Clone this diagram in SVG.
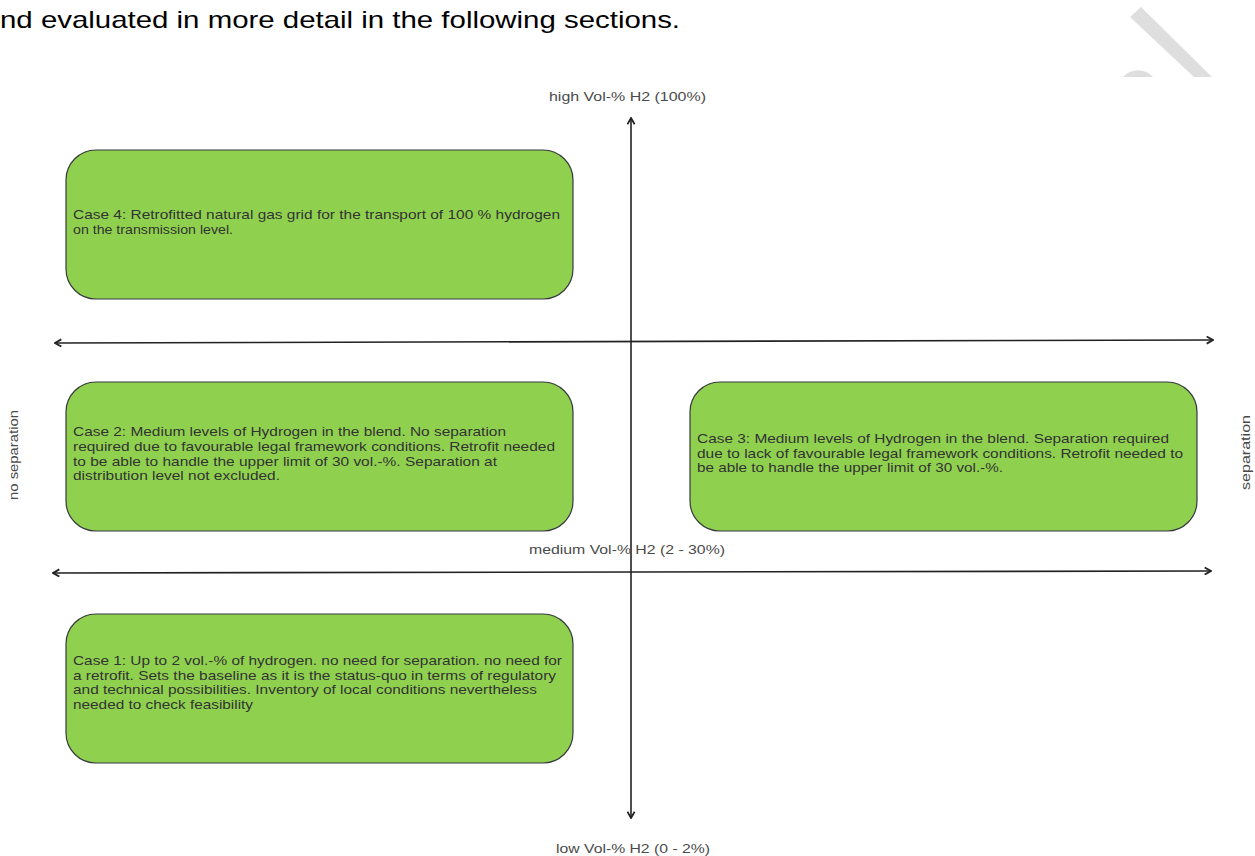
<svg xmlns="http://www.w3.org/2000/svg" width="1255" height="856" viewBox="0 0 1255 856">
<style>
.box{fill:#8fd14f;stroke:#36393d;stroke-width:1.2}
.bt{font-family:"Liberation Sans",Arial,sans-serif;font-size:13.5px;fill:#333333}
.lbl{font-family:"Liberation Sans",Arial,sans-serif;font-size:13.5px;fill:#4a4a4a}
.ax{stroke:#222222;stroke-width:1.6;fill:none}
.wm{fill:#dedede}
</style>
<defs>
<marker id="arr" viewBox="0 0 10 10" refX="9" refY="5" markerWidth="9" markerHeight="9" markerUnits="userSpaceOnUse" orient="auto-start-reverse">
<path d="M2,1 L9,5 L2,9" fill="none" stroke="#222222" stroke-width="2"/>
</marker>
</defs>
<rect width="1255" height="856" fill="#ffffff"/>
<g id="watermark">
<polygon class="wm" points="1130,17 1141,7 1212,77 1194,77"/>
<path class="wm" d="M1123,77 A20,20 0 0 1 1153,77 Z"/>
</g>
<text x="0" y="28" font-family="'Liberation Sans',Arial,sans-serif" font-size="24" fill="#000000" textLength="680" lengthAdjust="spacingAndGlyphs">nd evaluated in more detail in the following sections.</text>
<g id="connectors">
<line class="ax" x1="631" y1="818" x2="631" y2="118" marker-start="url(#arr)" marker-end="url(#arr)"/>
<line class="ax" x1="55" y1="343" x2="1213" y2="340" marker-start="url(#arr)" marker-end="url(#arr)"/>
<line class="ax" x1="53" y1="573" x2="1211" y2="571" marker-start="url(#arr)" marker-end="url(#arr)"/>
</g>
<g id="label-high"><text class="lbl" x="549" y="101" textLength="157" lengthAdjust="spacingAndGlyphs">high Vol-% H2 (100%)</text></g>
<g id="label-medium"><text class="lbl" x="529" y="554" textLength="196" lengthAdjust="spacingAndGlyphs">medium Vol-% H2 (2 - 30%)</text></g>
<g id="label-low"><text class="lbl" x="556" y="853" textLength="154" lengthAdjust="spacingAndGlyphs">low Vol-% H2 (0 - 2%)</text></g>
<g id="label-noseparation"><text class="lbl" transform="translate(18,500) rotate(-90)" x="0" y="0" textLength="90" lengthAdjust="spacingAndGlyphs">no separation</text></g>
<g id="label-separation"><text class="lbl" transform="translate(1250,490) rotate(-90)" x="0" y="0" textLength="75" lengthAdjust="spacingAndGlyphs">separation</text></g>
<g id="case4">
<rect class="box" x="66" y="150" width="507" height="149" rx="30" ry="30"/>
<text class="bt" x="73" y="219" textLength="487" lengthAdjust="spacingAndGlyphs">Case 4: Retrofitted natural gas grid for the transport of 100 % hydrogen</text>
<text class="bt" x="73" y="234" textLength="160" lengthAdjust="spacingAndGlyphs">on the transmission level.</text>
</g>
<g id="case2">
<rect class="box" x="66" y="382" width="507" height="149" rx="30" ry="30"/>
<text class="bt" x="73" y="436" textLength="433" lengthAdjust="spacingAndGlyphs">Case 2: Medium levels of Hydrogen in the blend. No separation</text>
<text class="bt" x="73" y="451" textLength="482" lengthAdjust="spacingAndGlyphs">required due to favourable legal framework conditions. Retrofit needed</text>
<text class="bt" x="73" y="466" textLength="424" lengthAdjust="spacingAndGlyphs">to be able to handle the upper limit of 30 vol.-%. Separation at</text>
<text class="bt" x="73" y="480" textLength="207" lengthAdjust="spacingAndGlyphs">distribution level not excluded.</text>
</g>
<g id="case3">
<rect class="box" x="690" y="382" width="507" height="149" rx="30" ry="30"/>
<text class="bt" x="697" y="443" textLength="472" lengthAdjust="spacingAndGlyphs">Case 3: Medium levels of Hydrogen in the blend. Separation required</text>
<text class="bt" x="697" y="458" textLength="486" lengthAdjust="spacingAndGlyphs">due to lack of favourable legal framework conditions. Retrofit needed to</text>
<text class="bt" x="697" y="472" textLength="306" lengthAdjust="spacingAndGlyphs">be able to handle the upper limit of 30 vol.-%.</text>
</g>
<g id="case1">
<rect class="box" x="66" y="614" width="507" height="149" rx="30" ry="30"/>
<text class="bt" x="73" y="665" textLength="489" lengthAdjust="spacingAndGlyphs">Case 1: Up to 2 vol.-% of hydrogen. no need for separation. no need for</text>
<text class="bt" x="73" y="680" textLength="483" lengthAdjust="spacingAndGlyphs">a retrofit. Sets the baseline as it is the status-quo in terms of regulatory</text>
<text class="bt" x="73" y="694" textLength="464" lengthAdjust="spacingAndGlyphs">and technical possibilities. Inventory of local conditions nevertheless</text>
<text class="bt" x="73" y="709" textLength="180" lengthAdjust="spacingAndGlyphs">needed to check feasibility</text>
</g>
</svg>
